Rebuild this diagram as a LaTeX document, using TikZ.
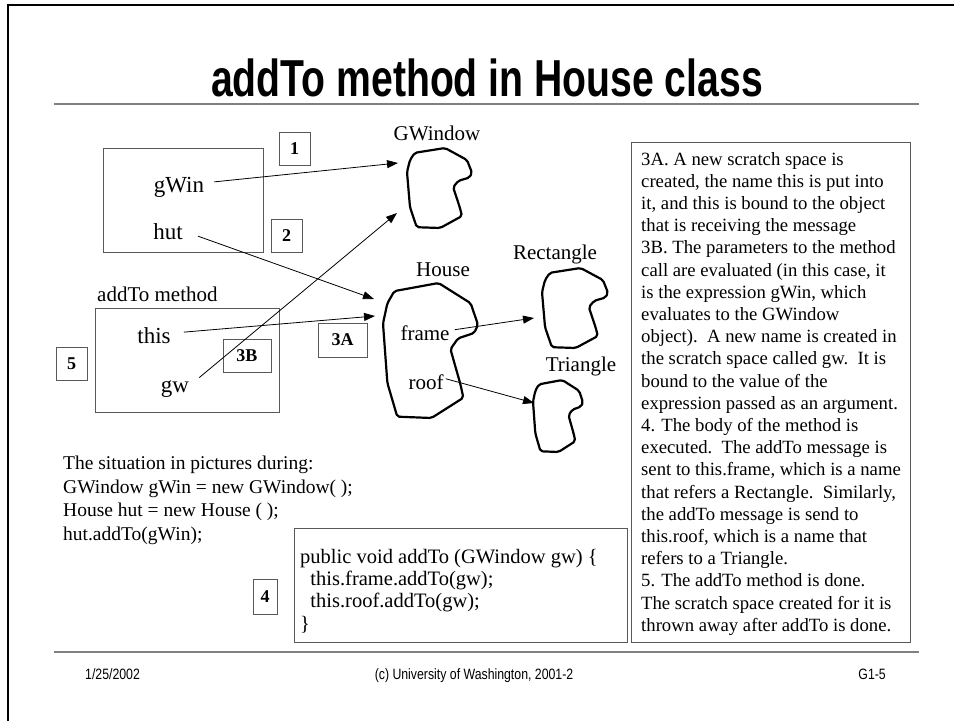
\documentclass[tikz,border=0pt]{standalone}
\usepackage{graphicx}
\usepackage{fontspec}
\setmainfont{Liberation Serif}
\newfontfamily\headfont{Liberation Sans}
\usetikzlibrary{arrows.meta}

\tikzset{
  pagefrm/.style={line width=2.5pt, black},
  sliderule/.style={line width=1.6pt, black!50},
  scratch/.style={draw=black!65, line width=1pt},
  numbox/.style={draw=black!65, line width=1pt, inner sep=0pt,
    minimum width=31pt, minimum height=33pt,
    font=\fontsize{18}{18}\selectfont\bfseries},
  objlabel/.style={inner sep=0pt, font=\fontsize{21}{21}\selectfont},
  varname/.style={inner sep=0pt, font=\fontsize{23}{23}\selectfont},
  ref/.style={line width=0.8pt, -{Triangle[length=11pt,width=8pt]}},
  blobline/.style={line width=2.2pt, line join=round, rounded corners=2pt},
  body/.style={inner sep=0pt, align=left, font=\fontsize{18.7}{22.2}\selectfont},
  foot/.style={inner sep=0pt, font=\headfont\fontsize{15}{15}\selectfont},
}

% irregular outline used for every object; #1,#2 = top-left, #3 = width, #4 = height
\newcommand\objblob[4]{%
  \draw[blobline, shift={(#1,#2)}, xscale=#3, yscale=#4]
    (0.12,0.06) -- (0.585,0) -- (0.923,0.15) -- (1,0.31) -- (0.96,0.37)
    -- (0.79,0.41) -- (0.71,0.49) -- (0.815,0.75) -- (0.846,0.85)
    -- (0.51,1) -- (0.15,0.99) -- (0.046,0.74) -- (0,0.30) -- (0.046,0.15) -- cycle;}

\begin{document}
\begin{tikzpicture}[x=1pt,y=-1pt]
\useasboundingbox (0,0) rectangle (954,721);
\fill[white] (0,0) rectangle (954,721);

% slide frame and rules
\draw[pagefrm] (8,721) -- (8,5) -- (954,5);
\draw[sliderule] (54,104) -- (919,104);
\draw[sliderule] (54,652) -- (919,652);

% title
\node[anchor=base, inner sep=0pt] (title) at (487,96)
  {\headfont\bfseries\fontsize{52}{52}\selectfont\scalebox{0.753}[1]{addTo method in House class}};

% caller's scratch space
\draw[scratch] (103,148) rectangle (263,252);
\node[varname, anchor=base] (gwin) at (179,192) {gWin};
\node[varname, anchor=base] (hut) at (168,239) {hut};
\node[numbox] (n1) at (294.5,148.5) {1};
\node[numbox] (n2) at (286.5,236) {2};

% method's scratch space
\node[objlabel, anchor=base west] (mlbl) at (97,301) {addTo method};
\draw[scratch] (95,308) rectangle (279,412);
\node[varname, anchor=base] (this) at (154,343) {this};
\node[varname, anchor=base] (gw) at (175,392) {gw};
\node[numbox, minimum width=48pt] (n3b) at (247,356) {3B};
\node[numbox, minimum width=49pt, minimum height=34pt] (n3a) at (342.5,340) {3A};
\node[numbox] (n5) at (71.5,364) {5};

% objects
\node[objlabel] (gwlbl) at (437,133) {GWindow};
\objblob{407}{148}{65}{80}
\node[objlabel] (houselbl) at (443,270) {House};
\objblob{383}{283}{95}{135}
\node[objlabel, anchor=base] (frame) at (425,340) {frame};
\node[objlabel, anchor=base] (roof) at (426,389) {roof};
\node[objlabel] (rectlbl) at (555,254) {Rectangle};
\objblob{542}{268}{66}{80}
\node[objlabel] (trilbl) at (581,366) {Triangle};
\objblob{533}{380}{50}{72}

% arrow tips on the objects
\coordinate (gwA) at (398,163);
\coordinate (gwB) at (397,213);
\coordinate (hoA) at (374,299);
\coordinate (hoB) at (375,316);
\coordinate (reA) at (534,318);
\coordinate (trA) at (534,403);

\draw[ref] ([xshift=10pt,yshift=5pt]gwin.east) -- (gwA);
\draw[ref] ([xshift=15pt,yshift=-5pt]hut.east) -- (hoA);
\draw[ref] ([xshift=13pt,yshift=3pt]this.east) -- (hoB);
\draw[ref] ([xshift=10pt,yshift=11pt]gw.east) -- (gwB);
\draw[ref] ([xshift=5pt,yshift=3pt]frame.east) -- (reA);
\draw[ref] ([xshift=2pt,yshift=3pt]roof.east) -- (trA);

% explanation
\draw[scratch] (631,142) rectangle (910,642);
\node[body, anchor=north west] (notes) at (641,152) {%
3A. A new scratch space is\\
created, the name this is put into\\
it, and this is bound to the object\\
that is receiving the message\\
3B. The parameters to the method\\
call are evaluated (in this case, it\\
is the expression gWin, which\\
evaluates to the GWindow\\
object).\ \ A new name is created in\\
the scratch space called gw.\ \ It is\\
bound to the value of the\\
expression passed as an argument.\\
4. The body of the method is\\
executed.\ \ The addTo message is\\
sent to this.frame, which is a name\\
that refers a Rectangle.\ \ Similarly,\\
the addTo message is send to\\
this.roof, which is a name that\\
refers to a Triangle.\\
5. The addTo method is done.\\
The scratch space created for it is\\
thrown away after addTo is done.};

% statements being traced
\node[body, anchor=north west, font=\fontsize{19.5}{23.5}\selectfont] (during) at (63,456) {%
The situation in pictures during:\\
GWindow gWin = new GWindow( );\\
House hut = new House ( );\\
hut.addTo(gWin);};

% method body
\draw[scratch] (294,528) rectangle (627,642);
\node[body, anchor=north west, font=\fontsize{20.5}{22.2}\selectfont] (code) at (300,549) {%
public void addTo (GWindow gw) \{\\
\ \ this.frame.addTo(gw);\\
\ \ this.roof.addTo(gw);\\
\}};
\node[numbox, minimum width=24pt, minimum height=35pt] (n4) at (265,597) {4};

% footer
\node[foot, anchor=base west] (date) at (85,679) {\scalebox{0.82}[1]{1/25/2002}};
\node[foot, anchor=base] (copy) at (474,679) {\scalebox{0.82}[1]{(c) University of Washington, 2001-2}};
\node[foot, anchor=base east] (pg) at (886,679) {\scalebox{0.82}[1]{G1-5}};
\end{tikzpicture}
\end{document}
